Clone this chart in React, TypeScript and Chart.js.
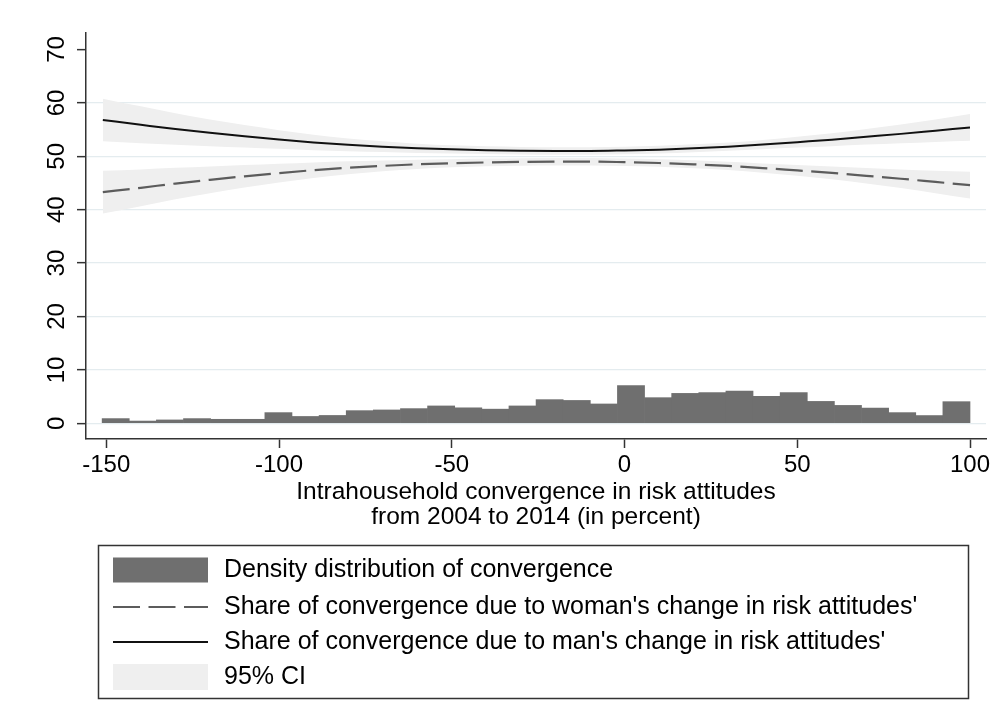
import { useEffect, useRef } from 'react';
import { Chart, registerables } from 'chart.js';

Chart.register(...registerables);

const FONT = '"Liberation Sans", Arial, Helvetica, sans-serif';

// Histogram of intrahousehold convergence (32 equal-width bins)
const binStart = -151.2;
const binWidth = 7.85;
const densityValues = [
  0.88, 0.42, 0.63, 0.88, 0.75, 0.75, 2.0, 1.28, 1.47, 2.37, 2.5, 2.75, 3.25, 2.9, 2.65, 3.25,
  4.43, 4.28, 3.62, 7.05, 4.8, 5.6, 5.75, 6.05, 5.05, 5.75, 4.1, 3.35, 2.85, 2.0, 1.45, 4.05,
];

// Fitted shares along the convergence axis
const curveX = [
  -151, -140, -130, -120, -110, -100, -90, -80, -70, -60, -50, -40, -30, -20, -10,
  0, 10, 20, 30, 40, 50, 60, 70, 80, 90, 100,
];
const manShare = [
  56.8, 55.9, 55.1, 54.4, 53.75, 53.15, 52.6, 52.15, 51.8, 51.5, 51.3, 51.15, 51.05, 51.0, 51.0,
  51.1, 51.25, 51.5, 51.8, 52.2, 52.65, 53.1, 53.65, 54.2, 54.8, 55.4,
];
const womanShare = [
  43.3, 44.1, 44.9, 45.6, 46.25, 46.85, 47.4, 47.85, 48.2, 48.5, 48.7, 48.85, 48.95, 49.0, 49.0,
  48.9, 48.75, 48.5, 48.2, 47.8, 47.35, 46.9, 46.35, 45.8, 45.2, 44.6,
];
// Half-width of the 95% confidence band
const ciHalfWidth = [
  4.0, 3.45, 2.95, 2.5, 2.1, 1.75, 1.45, 1.2, 1.0, 0.87, 0.77, 0.72, 0.7, 0.7, 0.7,
  0.7, 0.71, 0.74, 0.77, 0.86, 1.0, 1.2, 1.45, 1.75, 2.1, 2.5,
];

const xTicks = [-150, -100, -50, 0, 50, 100];
const yTicks = [0, 10, 20, 30, 40, 50, 60, 70];

const xTitle = ['Intrahousehold convergence in risk attitudes', 'from 2004 to 2014 (in percent)'];
const legendLabels = [
  'Density distribution of convergence',
  "Share of convergence due to woman's change in risk attitudes'",
  "Share of convergence due to man's change in risk attitudes'",
  '95% CI',
];

const BAR_COLOR = '#6f6f6f';
const BAND_COLOR = '#efefef';
const WOMAN_COLOR = '#5c5c5c';
const MAN_COLOR = '#111111';
const WOMAN_DASH = [27, 8.5];

const overlayPlugin = {
  id: 'overlay',
  afterDraw(chart: any) {
    const { ctx } = chart;
    const yScale = chart.scales.y;
    ctx.save();

    // vertical y tick labels
    ctx.fillStyle = '#000';
    ctx.font = `24px ${FONT}`;
    ctx.textAlign = 'center';
    ctx.textBaseline = 'alphabetic';
    for (const v of yTicks) {
      const py = yScale.getPixelForValue(v);
      ctx.save();
      ctx.translate(64, py);
      ctx.rotate(-Math.PI / 2);
      ctx.fillText(String(v), 0, 0);
      ctx.restore();
    }

    // legend box
    const boxL = 98.5;
    const boxT = 545.5;
    const boxW = 870;
    const boxH = 153;
    ctx.strokeStyle = '#333';
    ctx.lineWidth = 1.5;
    ctx.strokeRect(boxL, boxT, boxW, boxH);

    const swL = 113;
    const swR = 208;
    const textX = 224;
    const rows = [570, 607, 642, 677];

    ctx.fillStyle = BAR_COLOR;
    ctx.fillRect(swL, rows[0] - 12.5, swR - swL, 25);

    ctx.strokeStyle = WOMAN_COLOR;
    ctx.lineWidth = 2.2;
    ctx.setLineDash(WOMAN_DASH);
    ctx.beginPath();
    ctx.moveTo(swL, rows[1]);
    ctx.lineTo(swR, rows[1]);
    ctx.stroke();
    ctx.setLineDash([]);

    ctx.strokeStyle = MAN_COLOR;
    ctx.lineWidth = 2;
    ctx.beginPath();
    ctx.moveTo(swL, rows[2]);
    ctx.lineTo(swR, rows[2]);
    ctx.stroke();

    ctx.fillStyle = BAND_COLOR;
    ctx.fillRect(swL, rows[3] - 13, swR - swL, 26);

    ctx.fillStyle = '#000';
    ctx.font = `25px ${FONT}`;
    ctx.textAlign = 'left';
    ctx.textBaseline = 'middle';
    legendLabels.forEach((label, i) => ctx.fillText(label, textX, rows[i]));

    ctx.restore();
  },
};

export default function App() {
  const canvasRef = useRef<HTMLCanvasElement | null>(null);

  useEffect(() => {
    document.body.style.margin = '0';
    const canvas = canvasRef.current;
    if (!canvas) return;

    const binCenters = densityValues.map((_, i) => binStart + binWidth * (i + 0.5));
    const band = (center: number[], sign: number) =>
      curveX.map((x, i) => ({ x, y: center[i] + sign * ciHalfWidth[i] }));
    const curve = (vals: number[]) => curveX.map((x, i) => ({ x, y: vals[i] }));

    const bandStyle = {
      type: 'line' as const,
      borderWidth: 0,
      borderColor: 'rgba(0,0,0,0)',
      pointRadius: 0,
      backgroundColor: BAND_COLOR,
      cubicInterpolationMode: 'monotone' as const,
      order: 10,
    };

    const chart = new Chart(canvas, {
      type: 'bar',
      data: {
        datasets: [
          { ...bandStyle, label: 'man CI upper', data: band(manShare, 1), fill: '+1' },
          { ...bandStyle, label: 'man CI lower', data: band(manShare, -1), fill: false },
          { ...bandStyle, label: 'woman CI upper', data: band(womanShare, 1), fill: '+1' },
          { ...bandStyle, label: 'woman CI lower', data: band(womanShare, -1), fill: false },
          {
            type: 'bar',
            label: legendLabels[0],
            data: binCenters.map((x, i) => ({ x, y: densityValues[i] })),
            backgroundColor: BAR_COLOR,
            borderWidth: 0,
            barPercentage: 1,
            categoryPercentage: 1,
            order: 5,
          },
          {
            type: 'line',
            label: legendLabels[1],
            data: curve(womanShare),
            borderColor: WOMAN_COLOR,
            borderWidth: 2.2,
            borderDash: WOMAN_DASH,
            pointRadius: 0,
            fill: false,
            cubicInterpolationMode: 'monotone',
            order: 1,
          },
          {
            type: 'line',
            label: legendLabels[2],
            data: curve(manShare),
            borderColor: MAN_COLOR,
            borderWidth: 2,
            pointRadius: 0,
            fill: false,
            cubicInterpolationMode: 'monotone',
            order: 1,
          },
        ] as any,
      },
      options: {
        responsive: false,
        animation: false,
        events: [],
        layout: { padding: { left: 0, top: 33, right: 16, bottom: 0 } },
        plugins: {
          legend: { display: false },
          tooltip: { enabled: false },
        },
        scales: {
          x: {
            type: 'linear',
            min: -155.87,
            max: 104.63,
            offset: false,
            afterBuildTicks: (s: any) => {
              s.ticks = xTicks.map((v) => ({ value: v }));
            },
            afterFit: (s: any) => {
              s.height = 288;
              s.paddingLeft = 0;
              s.paddingRight = 0;
            },
            grid: {
              offset: false,
              drawOnChartArea: false,
              drawTicks: true,
              tickLength: 9,
              tickColor: '#333',
              tickWidth: 1.5,
            },
            border: { display: true, color: '#333', width: 1.5 },
            ticks: {
              color: '#000',
              font: { family: FONT, size: 24, lineHeight: 1 },
              padding: 5,
              maxRotation: 0,
              autoSkip: false,
              callback: (v: any) => String(v),
            },
            title: {
              display: true,
              text: xTitle,
              color: '#000',
              font: { family: FONT, size: 24.5, lineHeight: '25px' as any },
              padding: { top: 0, bottom: 197.5 },
            },
          },
          y: {
            type: 'linear',
            min: -2.94,
            max: 73.09,
            afterBuildTicks: (s: any) => {
              s.ticks = yTicks.map((v) => ({ value: v }));
            },
            afterFit: (s: any) => {
              s.width = 86;
              s.paddingTop = 0;
              s.paddingBottom = 0;
            },
            grid: {
              color: (c: any) => (c.tick && c.tick.value === 70 ? 'rgba(0,0,0,0)' : '#e4ecef'),
              lineWidth: 1.3,
              drawTicks: true,
              tickLength: 9,
              tickColor: '#333',
              tickWidth: 1.5,
            },
            border: { display: true, color: '#333', width: 1.5 },
            ticks: { display: false },
          },
        },
      },
      plugins: [overlayPlugin],
    });

    return () => chart.destroy();
  }, []);

  return (
    <div style={{ width: 1002, height: 727, background: '#fff' }}>
      <canvas ref={canvasRef} width={1002} height={727} style={{ display: 'block' }} />
    </div>
  );
}
